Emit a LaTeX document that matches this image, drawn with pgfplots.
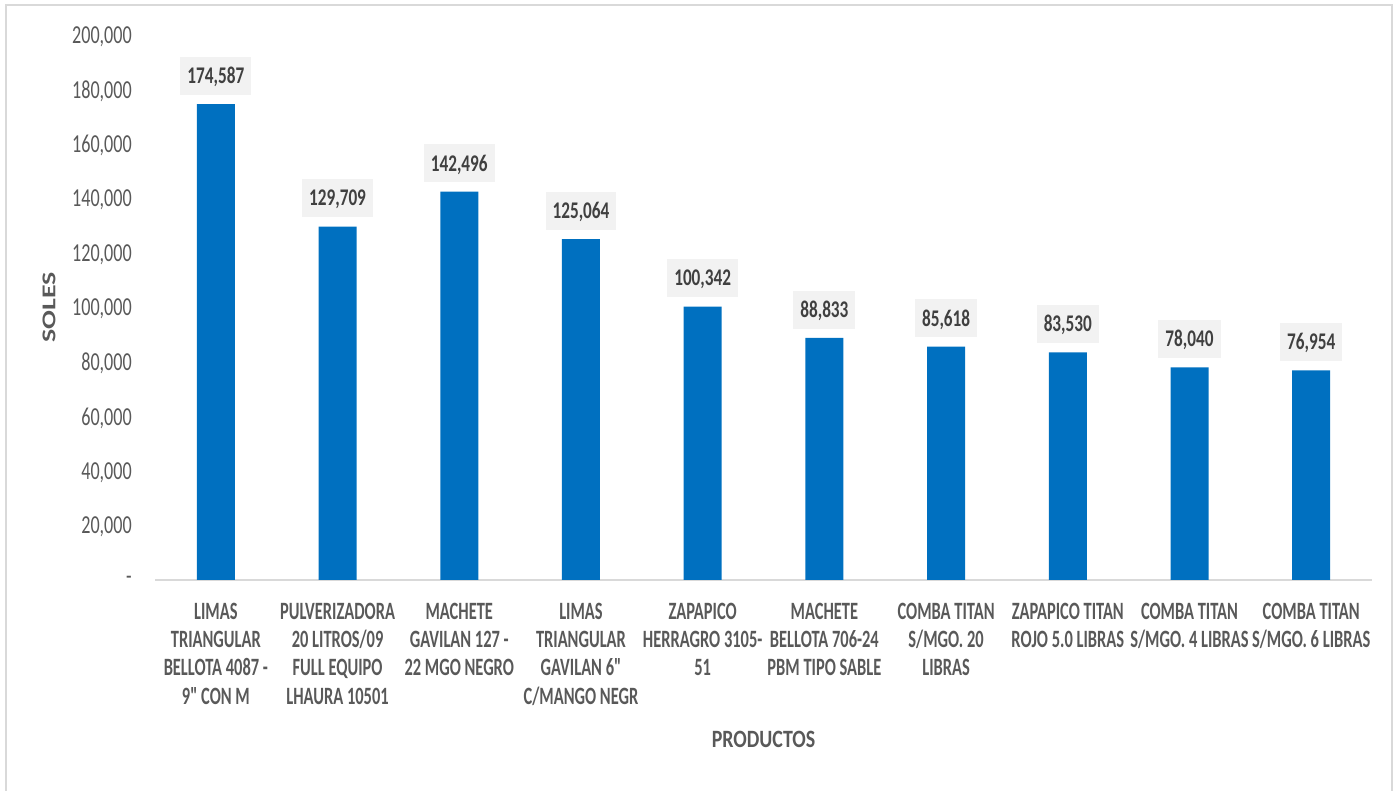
\documentclass[border=0pt]{standalone}
\usepackage{pgfplots}
\pgfplotsset{compat=1.18}
\usepackage{fontspec}
\setmainfont{Carlito}
\newfontfamily\tickfont{Carlito}[FakeStretch=0.70]
\newfontfamily\catfont{Carlito}[FakeStretch=0.66]
\newfontfamily\datafont{Carlito}[FakeStretch=0.72]
\newfontfamily\prodfont{Carlito}[FakeStretch=0.80]
\definecolor{barblue}{HTML}{0070C0}
\definecolor{txt}{HTML}{595959}
\definecolor{dlab}{HTML}{404040}
\definecolor{boxfill}{HTML}{F2F2F2}
\definecolor{axisgray}{HTML}{D9D9D9}
\begin{document}
\begin{tikzpicture}
\useasboundingbox (0,0) rectangle (1398bp,791bp);
\draw[axisgray, line width=2bp] (6bp,-20bp) rectangle (1392bp,786bp);
\begin{axis}[
  at={(155bp,211bp)}, anchor=south west,
  scale only axis, width=1217bp, height=545bp,
  xmin=-0.5, xmax=9.5, ymin=0, ymax=200000,
  ybar, bar width=38bp, bar shift=0pt,
  axis x line*=bottom, axis y line*=left,
  y axis line style={draw=none},
  x axis line style={draw=axisgray, line width=2bp},
  major tick length=0pt,
  xtick={0,...,9},
  xticklabels={
    {LIMAS\\TRIANGULAR\\BELLOTA 4087 -\\9" CON M},
    {PULVERIZADORA\\20 LITROS/09\\FULL EQUIPO\\LHAURA 10501},
    {MACHETE\\GAVILAN 127 -\\22 MGO NEGRO},
    {LIMAS\\TRIANGULAR\\GAVILAN 6"\\C/MANGO NEGR},
    {ZAPAPICO\\HERRAGRO 3105-\\51},
    {MACHETE\\BELLOTA 706-24\\PBM TIPO SABLE},
    {COMBA TITAN\\S/MGO. 20\\LIBRAS},
    {ZAPAPICO TITAN\\ROJO 5.0 LIBRAS},
    {COMBA TITAN\\S/MGO. 4 LIBRAS},
    {COMBA TITAN\\S/MGO. 6 LIBRAS}},
  xticklabel style={font=\catfont\bfseries\fontsize{25}{28.3}\selectfont, align=center, text=txt, anchor=north, inner sep=0pt, yshift=-23bp},
  ytick={0,20000,...,200000},
  yticklabels={-,{20,000},{40,000},{60,000},{80,000},{100,000},{120,000},{140,000},{160,000},{180,000},{200,000}},
  yticklabel style={font=\tickfont\fontsize{26}{26}\selectfont, text=txt, anchor=east, inner sep=0pt, xshift=-23bp, text depth=0pt},
  /pgf/number format/.cd, fixed, precision=0, assume math mode=true, 1000 sep={,},
  /pgfplots/.cd,
  scaled ticks=false,
  nodes near coords,
  nodes near coords style={font=\datafont\bfseries\fontsize{24}{24}\selectfont, text=dlab, fill=boxfill, anchor=south, yshift=9bp, inner xsep=7bp, inner ysep=11.4bp, text height=15.2bp, text depth=0pt},
  xlabel={PRODUCTOS},
  xlabel style={font=\prodfont\bfseries\fontsize{25}{25}\selectfont, text=txt, at={(axis description cs:0.5,0)}, anchor=north, inner sep=0pt, yshift=-151bp},
  ylabel={\scalebox{1}[0.7]{\fontsize{28}{28}\selectfont\bfseries SOLES}},
  ylabel style={text=txt, at={(axis description cs:-0.0871,0.5)}, anchor=center, inner sep=0pt},
]
\addplot[fill=barblue, draw=none] coordinates {
  (0,174587) (1,129709) (2,142496) (3,125064) (4,100342)
  (5,88833) (6,85618) (7,83530) (8,78040) (9,76954)};
\end{axis}
\end{tikzpicture}
\end{document}
